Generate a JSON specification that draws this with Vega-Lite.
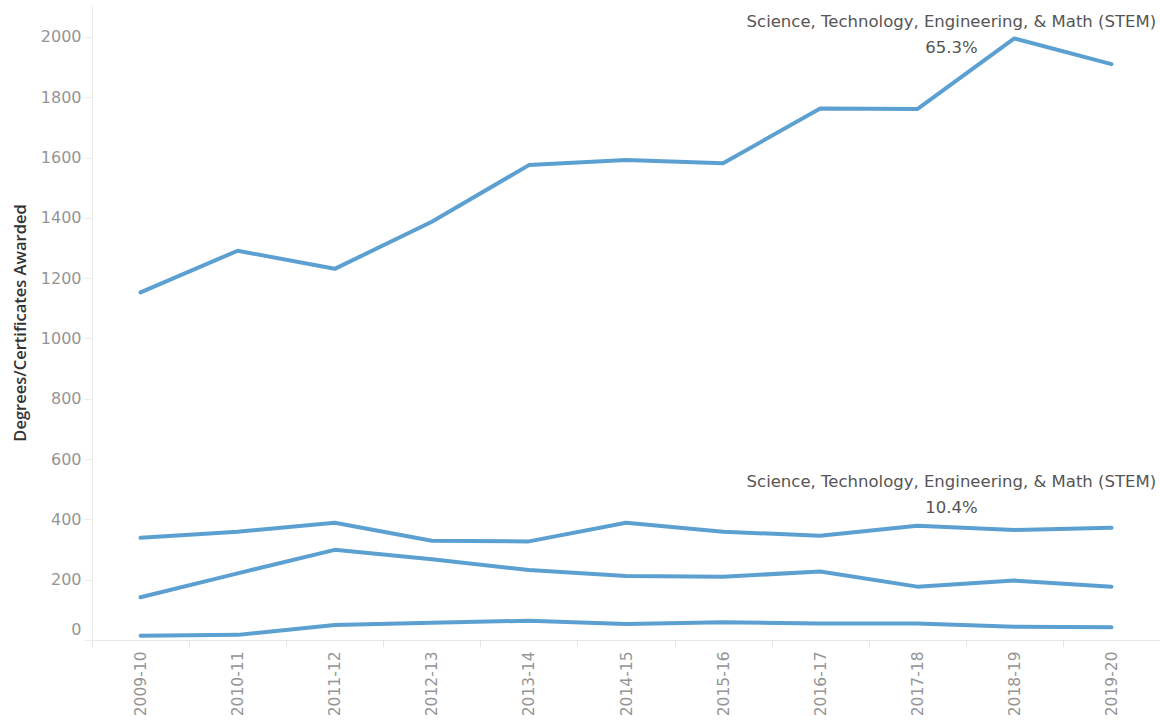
{
  "$schema": "https://vega.github.io/schema/vega-lite/v6.json",
  "autosize": "none",
  "width": 1068,
  "height": 635,
  "padding": {"left": 92, "top": 5, "right": 0, "bottom": 81},
  "background": "white",
  "config": {
    "view": {"stroke": null},
    "font": "DejaVu Sans"
  },
  "datasets": {
    "lines": [
      {"year": "2009-10", "series": "STEM 65.3%", "value": 1153},
      {"year": "2010-11", "series": "STEM 65.3%", "value": 1291},
      {"year": "2011-12", "series": "STEM 65.3%", "value": 1231},
      {"year": "2012-13", "series": "STEM 65.3%", "value": 1387},
      {"year": "2013-14", "series": "STEM 65.3%", "value": 1575},
      {"year": "2014-15", "series": "STEM 65.3%", "value": 1592},
      {"year": "2015-16", "series": "STEM 65.3%", "value": 1581},
      {"year": "2016-17", "series": "STEM 65.3%", "value": 1763},
      {"year": "2017-18", "series": "STEM 65.3%", "value": 1761},
      {"year": "2018-19", "series": "STEM 65.3%", "value": 1995},
      {"year": "2019-20", "series": "STEM 65.3%", "value": 1910},
      {"year": "2009-10", "series": "STEM 10.4%", "value": 339},
      {"year": "2010-11", "series": "STEM 10.4%", "value": 359},
      {"year": "2011-12", "series": "STEM 10.4%", "value": 389},
      {"year": "2012-13", "series": "STEM 10.4%", "value": 329},
      {"year": "2013-14", "series": "STEM 10.4%", "value": 327},
      {"year": "2014-15", "series": "STEM 10.4%", "value": 389},
      {"year": "2015-16", "series": "STEM 10.4%", "value": 359},
      {"year": "2016-17", "series": "STEM 10.4%", "value": 346},
      {"year": "2017-18", "series": "STEM 10.4%", "value": 379},
      {"year": "2018-19", "series": "STEM 10.4%", "value": 365},
      {"year": "2019-20", "series": "STEM 10.4%", "value": 372},
      {"year": "2009-10", "series": "Series 3", "value": 142},
      {"year": "2010-11", "series": "Series 3", "value": 221},
      {"year": "2011-12", "series": "Series 3", "value": 299},
      {"year": "2012-13", "series": "Series 3", "value": 268},
      {"year": "2013-14", "series": "Series 3", "value": 232},
      {"year": "2014-15", "series": "Series 3", "value": 212},
      {"year": "2015-16", "series": "Series 3", "value": 210},
      {"year": "2016-17", "series": "Series 3", "value": 227},
      {"year": "2017-18", "series": "Series 3", "value": 177},
      {"year": "2018-19", "series": "Series 3", "value": 197},
      {"year": "2019-20", "series": "Series 3", "value": 177},
      {"year": "2009-10", "series": "Series 4", "value": 14},
      {"year": "2010-11", "series": "Series 4", "value": 17},
      {"year": "2011-12", "series": "Series 4", "value": 50},
      {"year": "2012-13", "series": "Series 4", "value": 57},
      {"year": "2013-14", "series": "Series 4", "value": 64},
      {"year": "2014-15", "series": "Series 4", "value": 53},
      {"year": "2015-16", "series": "Series 4", "value": 59},
      {"year": "2016-17", "series": "Series 4", "value": 55},
      {"year": "2017-18", "series": "Series 4", "value": 55},
      {"year": "2018-19", "series": "Series 4", "value": 44},
      {"year": "2019-20", "series": "Series 4", "value": 42}
    ],
    "labels": [
      {"year": "2018-19", "pos": "top", "value": 1995, "name": "Science, Technology, Engineering, & Math (STEM)", "pct": "65.3%"},
      {"year": "2018-19", "pos": "low", "value": 365, "name": "Science, Technology, Engineering, & Math (STEM)", "pct": "10.4%"}
    ]
  },
  "layer": [
    {
      "data": {"name": "lines"},
      "mark": {"type": "line", "color": "#5ba0d0", "strokeWidth": 4, "strokeCap": "round", "strokeJoin": "round"},
      "encoding": {
        "x": {
          "field": "year", "type": "ordinal",
          "scale": {"type": "band", "paddingInner": 0, "paddingOuter": 0},
          "axis": {
            "title": null,
            "labelAngle": -90,
            "labelFontSize": 15.5,
            "labelColor": "#959595",
            "labelPadding": 4,
            "tickBand": "extent",
            "tickSize": 7,
            "tickColor": "#e6e6e6",
            "domainColor": "#e6e6e6",
            "grid": false
          }
        },
        "y": {
          "field": "value", "type": "quantitative",
          "scale": {"domain": [0, 2106], "nice": false, "zero": true},
          "axis": {
            "title": "Degrees/Certificates Awarded",
            "titleFont": "Open Sans",
            "titleFontSize": 16.5,
            "titleFontWeight": 600,
            "titleColor": "#333333",
            "titlePadding": 12,
            "format": "d",
            "values": [0, 200, 400, 600, 800, 1000, 1200, 1400, 1600, 1800, 2000],
            "labelFontSize": 16,
            "labelColor": "#959595",
            "labelPadding": 3,
            "labelBaseline": {"condition": {"test": "datum.value === 0", "value": "bottom"}, "value": "middle"},
            "labelOffset": {"condition": {"test": "datum.value === 0", "value": -3}, "value": 0},
            "tickSize": 8,
            "tickColor": "#ececec",
            "domainColor": "#ececec",
            "grid": false
          }
        },
        "detail": {"field": "series", "type": "nominal"}
      }
    },
    {
      "data": {"name": "labels"},
      "transform": [{"filter": "datum.pos === 'top'"}],
      "mark": {"type": "text", "fontSize": 16.5, "color": "#555555", "align": "center", "baseline": "middle", "dx": -63, "dy": -16},
      "encoding": {
        "x": {"field": "year", "type": "ordinal"},
        "y": {"field": "value", "type": "quantitative"},
        "text": {"field": "name"}
      }
    },
    {
      "data": {"name": "labels"},
      "transform": [{"filter": "datum.pos === 'top'"}],
      "mark": {"type": "text", "fontSize": 16.5, "color": "#555555", "align": "center", "baseline": "middle", "dx": -63, "dy": 10},
      "encoding": {
        "x": {"field": "year", "type": "ordinal"},
        "y": {"field": "value", "type": "quantitative"},
        "text": {"field": "pct"}
      }
    },
    {
      "data": {"name": "labels"},
      "transform": [{"filter": "datum.pos === 'low'"}],
      "mark": {"type": "text", "fontSize": 16.5, "color": "#555555", "align": "center", "baseline": "middle", "dx": -63, "dy": -48},
      "encoding": {
        "x": {"field": "year", "type": "ordinal"},
        "y": {"field": "value", "type": "quantitative"},
        "text": {"field": "name"}
      }
    },
    {
      "data": {"name": "labels"},
      "transform": [{"filter": "datum.pos === 'low'"}],
      "mark": {"type": "text", "fontSize": 16.5, "color": "#555555", "align": "center", "baseline": "middle", "dx": -63, "dy": -22},
      "encoding": {
        "x": {"field": "year", "type": "ordinal"},
        "y": {"field": "value", "type": "quantitative"},
        "text": {"field": "pct"}
      }
    }
  ]
}
